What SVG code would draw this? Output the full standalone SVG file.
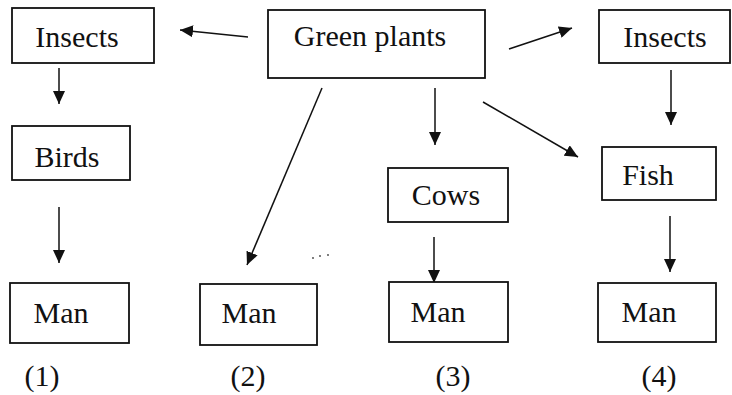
<svg xmlns="http://www.w3.org/2000/svg" width="732" height="395" viewBox="0 0 732 395">
<style>
.box{fill:#fff;stroke:#111;stroke-width:1.8}
.t{font-family:"Liberation Serif","Times New Roman",serif;font-size:30px;fill:#111;text-anchor:middle}
.c{stroke:#111;stroke-width:1.5;fill:none;marker-end:url(#ah)}
</style>
<defs>
<marker id="ah" markerUnits="userSpaceOnUse" markerWidth="14" markerHeight="12" refX="13" refY="6" orient="auto">
<path d="M0,0 L13,6 L0,12 z" fill="#111"/>
</marker>
</defs>
<rect width="732" height="395" fill="#fff"/>
<g id="connectors">
<line class="c" x1="248" y1="37" x2="180" y2="30"/>
<line class="c" x1="509" y1="49" x2="572" y2="28"/>
<line class="c" x1="59" y1="68" x2="59" y2="104"/>
<line class="c" x1="59" y1="207" x2="59" y2="263"/>
<line class="c" x1="322" y1="88" x2="247" y2="265"/>
<line class="c" x1="435" y1="88" x2="435" y2="145"/>
<line class="c" x1="483" y1="102" x2="578" y2="157"/>
<line class="c" x1="671" y1="70" x2="671" y2="125"/>
<line class="c" x1="434" y1="237" x2="434" y2="283"/>
<line class="c" x1="670" y1="216" x2="670" y2="272"/>
<g fill="#444"><circle cx="313" cy="258" r="0.9"/><circle cx="320" cy="256" r="0.9"/><circle cx="328" cy="255" r="0.9"/></g>
</g>
<g id="insects1"><rect class="box" x="12" y="8" width="142" height="55"/><text class="t" x="77" y="47">Insects</text></g>
<g id="greenplants"><rect class="box" x="268" y="10" width="217" height="68"/><text class="t" x="370" y="46">Green plants</text></g>
<g id="insects4"><rect class="box" x="599" y="10" width="131" height="53"/><text class="t" x="665" y="47">Insects</text></g>
<g id="birds"><rect class="box" x="12" y="126" width="118" height="54"/><text class="t" x="67" y="167">Birds</text></g>
<g id="cows"><rect class="box" x="388" y="168" width="120" height="54"/><text class="t" x="446" y="205">Cows</text></g>
<g id="fish"><rect class="box" x="602" y="147" width="114" height="53"/><text class="t" x="648" y="185">Fish</text></g>
<g id="man1"><rect class="box" x="10" y="283" width="119" height="60"/><text class="t" x="61" y="323">Man</text></g>
<g id="man2"><rect class="box" x="200" y="284" width="117" height="61"/><text class="t" x="249" y="323">Man</text></g>
<g id="man3"><rect class="box" x="389" y="282" width="119" height="60"/><text class="t" x="438" y="322">Man</text></g>
<g id="man4"><rect class="box" x="598" y="283" width="118" height="59"/><text class="t" x="649" y="322">Man</text></g>
<g id="labels">
<text class="t" x="42" y="386">(1)</text>
<text class="t" x="248" y="386">(2)</text>
<text class="t" x="453" y="386">(3)</text>
<text class="t" x="659" y="386">(4)</text>
</g>
</svg>
